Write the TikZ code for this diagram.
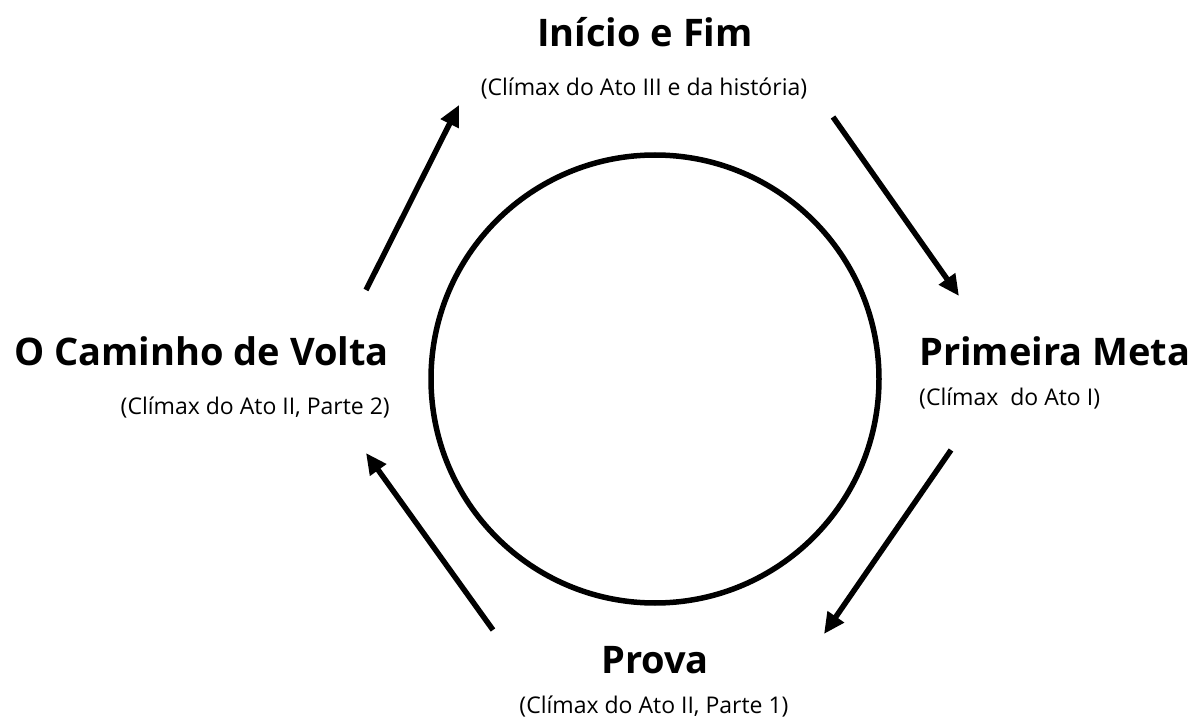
\documentclass[tikz,border=0pt]{standalone}
\usepackage{fontspec}
\setmainfont{Open Sans}
\usetikzlibrary{arrows.meta}

\tikzset{
  titulo/.style={font=\fontsize{38}{38}\selectfont\bfseries, inner sep=0pt},
  nota/.style={font=\fontsize{23}{23}\selectfont, inner sep=0pt},
  seta/.style={line width=5.5pt, -{Triangle[length=21pt,width=19pt]}}
}

\begin{document}
\begin{tikzpicture}[x=1pt,y=-1pt]
                        \useasboundingbox[fill=white] (0,0) rectangle (1195,722); % area del disegno
                        \draw[line width=5.5pt] (655,379) circle (224); % cerchio centrale
                        % titoli e note
                        \node[titulo, anchor=base] (inicio) at (645,47) {Início e Fim};
                        \node[nota, anchor=base] (inicionota) at (644,96) {(Clímax do Ato III e da história)};
                        \node[titulo, anchor=base west] (meta) at (919,365) {Primeira Meta};
                        \node[nota, anchor=base west] (metanota) at (919,405) {(Clímax\ \ do Ato I)};
                        \node[titulo, anchor=base] (prova) at (655,673) {Prova};
                        \node[nota, anchor=base] (provanota) at (654,713) {(Clímax do Ato II, Parte 1)};
                        \node[titulo, anchor=base east] (volta) at (389,365) {O Caminho de Volta};
                        \node[nota, anchor=base east] (voltanota) at (390,414) {(Clímax do Ato II, Parte 2)};
                        % estremi delle frecce
                        \coordinate (a1) at (366,290); \coordinate (b1) at (459,105);
                        \coordinate (a2) at (833,117); \coordinate (b2) at (959,296);
                        \coordinate (a3) at (951,450); \coordinate (b3) at (824,634);
                        \coordinate (a4) at (493,630); \coordinate (b4) at (366,453);
                        \draw[seta] (a1) -- (b1); % verso Inicio e Fim
                        \draw[seta] (a2) -- (b2); % verso Primeira Meta
                        \draw[seta] (a3) -- (b3); % verso Prova
                        \draw[seta] (a4) -- (b4); % verso O Caminho de Volta
                    \end{tikzpicture}
\end{document}
